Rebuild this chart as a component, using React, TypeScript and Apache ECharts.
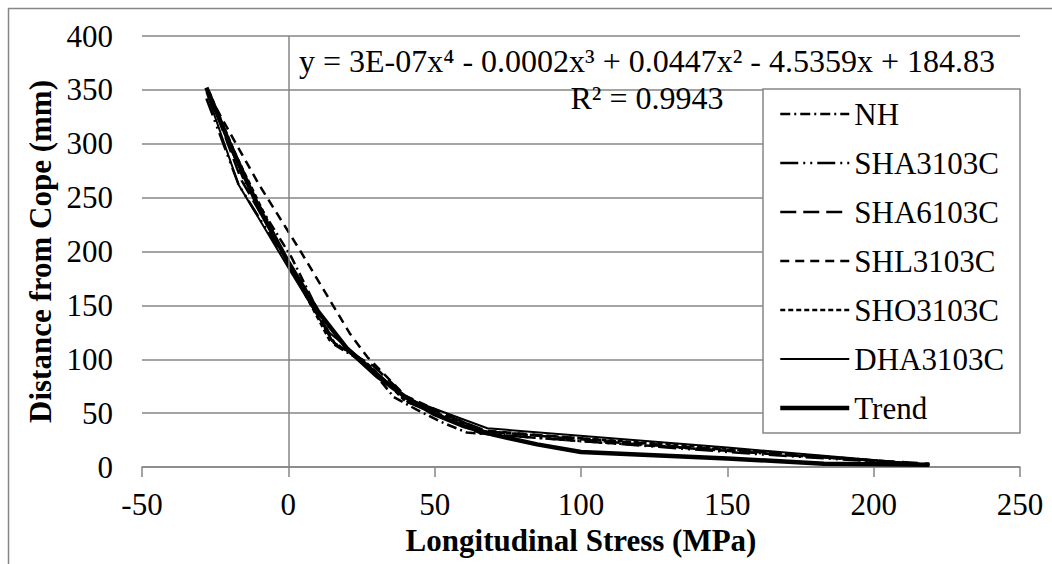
import React, { useEffect, useRef } from "react";
import * as echarts from "echarts";

const FONT = "Liberation Serif, Times New Roman, serif";
const GRAY = "#868686";

const seriesNames = ["NH", "SHA3103C", "SHA6103C", "SHL3103C", "SHO3103C", "DHA3103C", "Trend"];

// stress (MPa) / distance (mm) pairs
const nhStress = [-27, -15, 1, 16, 27, 36, 44, 52, 61, 100, 150, 219];
const nhDistance = [345, 265, 195, 113, 95, 65, 53, 42, 32, 24, 15, 2];

const sha3Stress = [-28, -17, 0, 15, 28, 41, 66, 110, 160, 219];
const sha3Distance = [342, 262, 188, 117, 93, 60, 31, 22, 12, 2];

const sha6Stress = [-27, -16, 0, 16, 29, 42, 68, 120, 170, 219];
const sha6Distance = [346, 266, 191, 114, 94, 61, 33, 21, 11, 3];

const shlStress = [-27, -22, -10, 4, 21, 27, 40, 66, 130, 219];
const shlDistance = [345, 320, 262, 201, 124, 102, 66, 34, 20, 2];

const shoStress = [-27, -18, -2, 14, 27, 40, 67, 140, 219];
const shoDistance = [348, 290, 200, 118, 96, 61, 33, 19, 2];

const dhaStress = [-28, -17, 0, 13, 25, 40, 68, 150, 219];
const dhaDistance = [348, 262, 185, 127, 100, 64, 36, 18, 2];

const trendStress = [-28, -20, -10, 0, 10, 20, 30, 40, 50, 60, 70, 85, 100, 125, 150, 183, 219];
const trendDistance = [352, 300, 240, 190, 145, 110, 85, 65, 49, 38, 30, 21, 14, 11, 8, 3, 2];

const xTicks = { min: -50, max: 250, step: 50 };
const yTicks = { min: 0, max: 400, step: 50 };

const equationText = "y = 3E-07x\u2074 - 0.0002x\u00b3 + 0.0447x\u00b2 - 4.5359x + 184.83";
const r2Text = "R\u00b2 = 0.9943";

const pairs = (xs: number[], ys: number[]) => xs.map((x, i) => [x, ys[i]]);

export default function App() {
  const ref = useRef<HTMLDivElement>(null);
  useEffect(() => {
    if (!ref.current) return;
    const chart = echarts.init(ref.current, undefined, { renderer: "svg" });

    const styles: Record<string, { width: number; type: any }> = {
      NH: { width: 2.5, type: [10, 4, 2, 4] },
      SHA3103C: { width: 2.5, type: [18, 5, 2, 5, 2, 5] },
      SHA6103C: { width: 2.5, type: [16, 7] },
      SHL3103C: { width: 2.5, type: [9, 6] },
      SHO3103C: { width: 2.5, type: [5, 3] },
      DHA3103C: { width: 2, type: "solid" },
      Trend: { width: 4.5, type: "solid" },
    };
    const dataMap: Record<string, number[][]> = {
      NH: pairs(nhStress, nhDistance),
      SHA3103C: pairs(sha3Stress, sha3Distance),
      SHA6103C: pairs(sha6Stress, sha6Distance),
      SHL3103C: pairs(shlStress, shlDistance),
      SHO3103C: pairs(shoStress, shoDistance),
      DHA3103C: pairs(dhaStress, dhaDistance),
      Trend: pairs(trendStress, trendDistance),
    };

    const series: any[] = [
      {
        name: "zero-line",
        type: "line",
        data: [],
        z: 1,
        silent: true,
        markLine: {
          silent: true,
          symbol: ["none", "none"],
          label: { show: false },
          lineStyle: { color: GRAY, width: 1.5, type: "solid" },
          data: [{ xAxis: 0 }],
        },
      },
      ...seriesNames.map((name) => ({
        name,
        type: "line",
        data: dataMap[name],
        symbol: "none",
        showSymbol: false,
        z: 2,
        itemStyle: { color: "rgba(0,0,0,0)" },
        lineStyle: { color: "#000", width: styles[name].width, type: styles[name].type, cap: "butt" },
      })),
    ];

    const txt = (size: number, bold = false) => ({
      fontSize: size,
      fontFamily: FONT,
      fontWeight: bold ? "bold" : "normal",
      color: "#000",
    });

    const option: any = {
      animation: false,
      backgroundColor: "#fff",
      textStyle: { fontFamily: FONT },
      grid: { left: 142, right: 32, top: 36, bottom: 97, containLabel: false },
      xAxis: {
        type: "value",
        min: xTicks.min,
        max: xTicks.max,
        interval: xTicks.step,
        axisLine: { onZero: false, lineStyle: { color: GRAY, width: 1.5 } },
        axisTick: { show: true, length: 10, lineStyle: { color: GRAY, width: 1.5 } },
        splitLine: { show: false },
        axisLabel: { ...txt(31), margin: 22 },
        name: "Longitudinal Stress (MPa)",
        nameLocation: "middle",
        nameGap: 56,
        nameTextStyle: txt(31, true),
      },
      yAxis: {
        type: "value",
        min: yTicks.min,
        max: yTicks.max,
        interval: yTicks.step,
        axisLine: { show: false, onZero: false },
        axisTick: { show: false },
        splitLine: { show: true, lineStyle: { color: GRAY, width: 1.5 } },
        axisLabel: { ...txt(31), margin: 29 },
        name: "Distance from Cope (mm)",
        nameLocation: "middle",
        nameRotate: 90,
        nameGap: 84,
        nameTextStyle: txt(31, true),
      },
      legend: {
        data: seriesNames,
        orient: "vertical",
        left: 763,
        top: 89,
        padding: [8, 0, 0, 15],
        itemWidth: 69,
        itemHeight: 14,
        itemGap: 15,
        selectedMode: false,
        itemStyle: { color: "rgba(0,0,0,0)", borderColor: "rgba(0,0,0,0)", borderWidth: 0 },
        lineStyle: { width: "inherit", type: "inherit", color: "inherit" },
        textStyle: { ...txt(31), lineHeight: 34 },
        z: 5,
      },
      graphic: [
        {
          type: "rect",
          z: 0,
          silent: true,
          shape: { x: 8.5, y: 8.5, width: 1200, height: 700 },
          style: { fill: "none", stroke: GRAY, lineWidth: 1.5 },
        },
        {
          type: "rect",
          z: 3,
          silent: true,
          shape: { x: 763, y: 89, width: 257, height: 344 },
          style: { fill: "#fff", stroke: GRAY, lineWidth: 1.5 },
        },
        {
          type: "text",
          z: 3,
          x: 647,
          y: 61,
          silent: true,
          style: {
            text: equationText,
            fill: "#000",
            fontSize: 32,
            fontFamily: FONT,
            textAlign: "center",
            textVerticalAlign: "middle",
          },
        },
        {
          type: "text",
          z: 3,
          x: 647,
          y: 98,
          silent: true,
          style: {
            text: r2Text,
            fill: "#000",
            fontSize: 32,
            fontFamily: FONT,
            textAlign: "center",
            textVerticalAlign: "middle",
          },
        },
      ],
      series,
    };

    chart.setOption(option);
    return () => chart.dispose();
  }, []);

  return (
    <div
      ref={ref}
      style={{ position: "absolute", left: 0, top: 0, width: 1052, height: 564, background: "#fff" }}
    />
  );
}
